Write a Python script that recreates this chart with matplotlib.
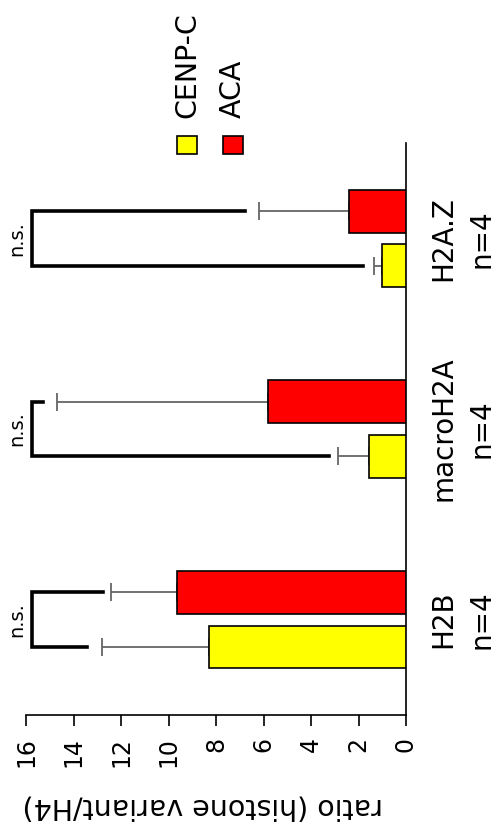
import matplotlib.pyplot as plt
from matplotlib.patches import Rectangle
import numpy as np

# data
categories = ["H2B\nn=4", "macroH2A\nn=4", "H2A.Z\nn=4"]
series_names = ["CENP-C", "ACA"]
series_colors = ["#ffff00", "#ff0000"]
cenpc = [8.28, 1.56, 1.00]
cenpc_err = [4.51, 1.29, 0.35]
aca = [9.65, 5.80, 2.39]
aca_err = [2.77, 8.91, 3.79]
# significance brackets: where each arm ends, and where the bracket spine sits
bracket_cenpc_end = [13.42, 3.23, 1.82]
bracket_aca_end = [12.74, 15.30, 6.78]
bracket_x = 15.73
sig_labels = ["n.s.", "n.s.", "n.s."]

if __name__ == "__main__":
    fig = plt.figure(figsize=(5, 8.27), dpi=100)
    ax = fig.add_axes([0.052, 0.1354, 0.76, 0.6917])

    y = np.arange(len(categories))
    h = 0.225
    off = 0.143

    # bars are drawn horizontally, 0 on the right (the whole chart is turned on its side)
    ax.barh(y - off, cenpc, height=h, color=series_colors[0], edgecolor="black", linewidth=1.2, zorder=3)
    ax.barh(y + off, aca, height=h, color=series_colors[1], edgecolor="black", linewidth=1.2, zorder=3)

    # one-sided error bars
    ax.errorbar(cenpc, y - off, xerr=[np.zeros(3), cenpc_err], fmt="none", ecolor="#666666",
                elinewidth=1.3, capsize=6.5, capthick=1.3, zorder=2)
    ax.errorbar(aca, y + off, xerr=[np.zeros(3), aca_err], fmt="none", ecolor="#666666",
                elinewidth=1.3, capsize=6.5, capthick=1.3, zorder=2)

    # brackets + n.s.
    for i in range(len(categories)):
        ax.plot([bracket_cenpc_end[i], bracket_x, bracket_x, bracket_aca_end[i]],
                [y[i] - off, y[i] - off, y[i] + off, y[i] + off],
                color="black", linewidth=2.6, solid_joinstyle="miter", zorder=4, clip_on=False)
        ax.text(bracket_x + 0.65, y[i], sig_labels[i], rotation=90, ha="center", va="center", fontsize=14)

    ax.set_xlim(16, 0)
    ax.set_ylim(-0.5, 2.5)

    ax.spines["left"].set_visible(False)
    ax.spines["top"].set_visible(False)
    ax.spines["right"].set_linewidth(1.2)
    ax.spines["bottom"].set_linewidth(1.2)

    ax.set_xticks(np.arange(0, 17, 2))
    ax.tick_params(axis="x", direction="out", length=8, width=1.2, pad=8, labelsize=17, labelrotation=90)

    ax.yaxis.tick_right()
    ax.set_yticks(y)
    ax.set_yticklabels(categories, rotation=90, va="center", ma="center", fontsize=20, linespacing=1.45)
    ax.tick_params(axis="y", length=0, pad=17)

    ax.set_xlabel("ratio (histone variant/H4)", fontsize=20.5, rotation=180)
    ax.xaxis.set_label_coords(0.466, -0.135)

    # legend drawn by hand so it can be turned like the rest of the chart
    leg_x = [177, 223]
    for name, col, lx in zip(series_names, series_colors, leg_x):
        fig.patches.append(Rectangle((lx / 500, 1 - 154 / 827), 20 / 500, 18 / 827, facecolor=col,
                                     edgecolor="black", linewidth=1.2, transform=fig.transFigure))
        fig.text((lx + 10) / 500, 1 - 118 / 827, name, rotation=90, ha="center", va="bottom", fontsize=20.5)

    fig.savefig("out.png", dpi=100)
